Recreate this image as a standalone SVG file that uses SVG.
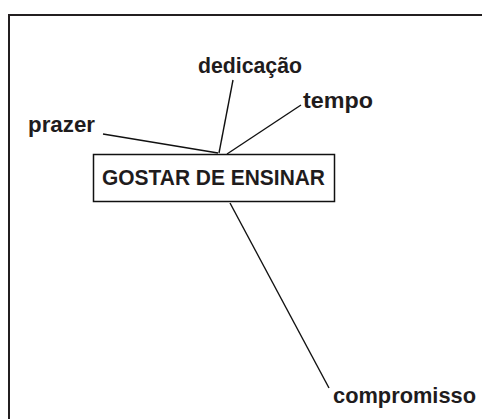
<svg xmlns="http://www.w3.org/2000/svg" width="482" height="419" viewBox="0 0 482 419">
<style>
.lbl{font-family:"Liberation Sans",Arial,sans-serif;font-weight:bold;font-size:22px;fill:#1f1c1d}
.conn{stroke:#111;stroke-width:1.4;fill:none}
</style>
<rect width="482" height="419" fill="#fff"/>
<path d="M9,420 V15 H483" fill="none" stroke="#231f20" stroke-width="2"/>
<g id="connectors">
<line class="conn" x1="103" y1="134" x2="218" y2="153"/>
<line class="conn" x1="233" y1="80" x2="219" y2="153"/>
<line class="conn" x1="301" y1="105" x2="227" y2="154"/>
<line class="conn" x1="230" y1="203" x2="329" y2="388"/>
</g>
<g id="center">
<rect x="93.5" y="154.5" width="241" height="47" fill="#fff" stroke="#111" stroke-width="1.5"/>
<text class="lbl" x="102" y="185" font-size="21" textLength="223" lengthAdjust="spacingAndGlyphs">GOSTAR DE ENSINAR</text>
</g>
<g id="dedicacao"><text class="lbl" x="198" y="73" textLength="104" lengthAdjust="spacingAndGlyphs">dedicação</text></g>
<g id="tempo"><text class="lbl" x="303" y="108" textLength="70" lengthAdjust="spacingAndGlyphs">tempo</text></g>
<g id="prazer"><text class="lbl" x="28" y="132" textLength="67" lengthAdjust="spacingAndGlyphs">prazer</text></g>
<g id="compromisso"><text class="lbl" x="333" y="403" textLength="143" lengthAdjust="spacingAndGlyphs">compromisso</text></g>
</svg>
